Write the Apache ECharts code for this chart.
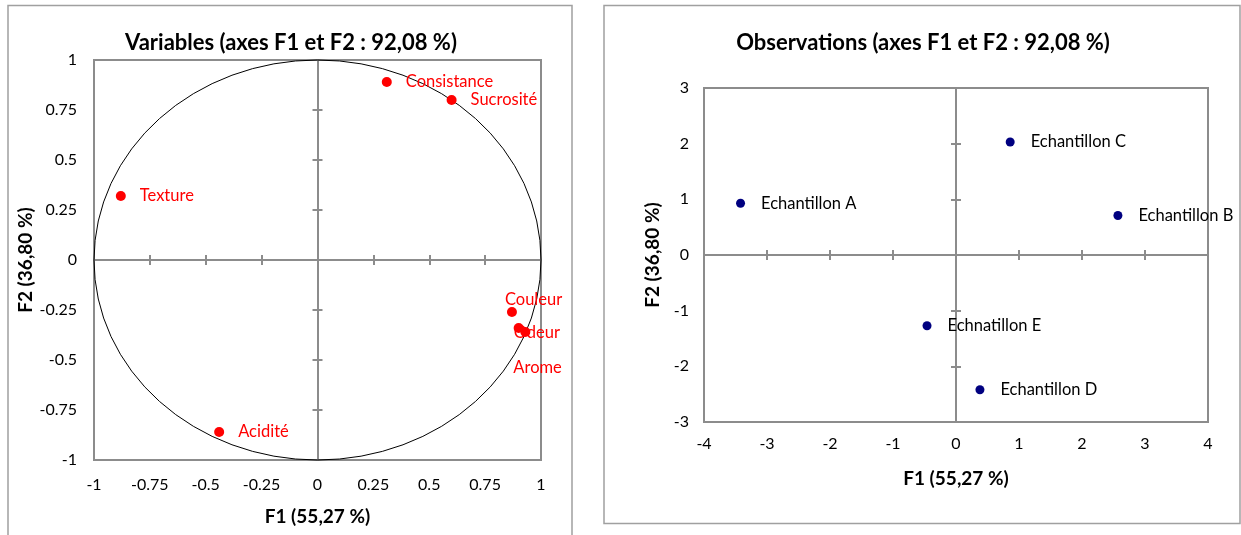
<!DOCTYPE html>
<html>
<head>
<meta charset="utf-8" />
<title>ACP - Variables et Observations</title>
<script src="https://cdn.jsdelivr.net/npm/echarts@6/dist/echarts.min.js"></script>
<style>
  html, body { margin: 0; padding: 0; background: #fff; }
  #main { width: 1241px; height: 535px; }
</style>
</head>
<body>
<div id="main"></div>
<script type="text/javascript">
  // cercle des corrélations
  var varNames = ['Consistance', 'Sucrosité', 'Texture', 'Couleur', 'Odeur', 'Arome', 'Acidité'];
  var varF1 = [0.31, 0.60, -0.88, 0.87, 0.90, 0.93, -0.44];
  var varF2 = [0.89, 0.80, 0.32, -0.26, -0.34, -0.36, -0.86];
  var varTicks = [-1, -0.75, -0.5, -0.25, 0, 0.25, 0.5, 0.75, 1];

  // observations
  var obsNames = ['Echantillon A', 'Echantillon B', 'Echantillon C', 'Echnatillon E', 'Echantillon D'];
  var obsF1 = [-3.42, 2.57, 0.86, -0.46, 0.38];
  var obsF2 = [0.93, 0.71, 2.03, -1.27, -2.42];
  var obsXTicks = [-4, -3, -2, -1, 0, 1, 2, 3, 4];
  var obsYTicks = [-3, -2, -1, 0, 1, 2, 3];

  var FONT = 'Lato';
  var AXIS_GREY = '#8c8c8c';

  // les étiquettes qui se chevauchent à droite du cercle
  var labelOffsets = {
    'Couleur': [-26, -12],
    'Odeur': [-24, 5],
    'Arome': [-31, 36]
  };

  // 3 axes par dimension : étiquettes au bord, puis ligne du zéro avec graduations croisées
  function makeAxes(dim, gridIndex, ticks, name, nameGap, labelMargin, firstIndex) {
    var base = {
      type: 'value',
      gridIndex: gridIndex,
      min: ticks[0],
      max: ticks[ticks.length - 1],
      interval: ticks[1] - ticks[0],
      splitLine: { show: false }
    };
    var pos = dim == 'x' ? 'bottom' : 'left';
    var labelAxis = echarts.util.merge({
      position: pos,
      axisLine: { show: false, onZero: false },
      axisTick: { show: false },
      axisLabel: { color: '#000', fontFamily: FONT, fontSize: 16, margin: labelMargin },
      name: name,
      nameLocation: 'middle',
      nameGap: nameGap,
      nameTextStyle: { color: '#000', fontFamily: FONT, fontSize: 19, fontWeight: 'bold' }
    }, base, true);
    var zeroOut = echarts.util.merge({
      position: pos,
      axisLine: { show: true, onZero: true, onZeroAxisIndex: firstIndex, lineStyle: { color: AXIS_GREY, width: 2 } },
      axisTick: { show: true, inside: false, length: 5, lineStyle: { color: AXIS_GREY, width: 2 } },
      axisLabel: { show: false }
    }, base, true);
    var zeroIn = echarts.util.merge({
      position: pos,
      axisLine: { show: false, onZero: true, onZeroAxisIndex: firstIndex },
      axisTick: { show: true, inside: true, length: 5, lineStyle: { color: AXIS_GREY, width: 2 } },
      axisLabel: { show: false }
    }, base, true);
    return [labelAxis, zeroOut, zeroIn];
  }

  var varData = [];
  for (var i = 0; i < varNames.length; i++) {
    var item = { name: varNames[i], value: [varF1[i], varF2[i]] };
    if (labelOffsets[varNames[i]]) {
      item.label = { offset: labelOffsets[varNames[i]] };
    }
    varData.push(item);
  }
  var obsData = [];
  for (var j = 0; j < obsNames.length; j++) {
    obsData.push({ name: obsNames[j], value: [obsF1[j], obsF2[j]] });
  }

  var xAxes = makeAxes('x', 0, varTicks, 'F1 (55,27 %)', 47, 17, 0)
    .concat(makeAxes('x', 1, obsXTicks, 'F1 (55,27 %)', 47, 14, 3));
  var yAxes = makeAxes('y', 0, varTicks, 'F2 (36,80 %)', 56, 17, 0)
    .concat(makeAxes('y', 1, obsYTicks, 'F2 (36,80 %)', 42, 15, 3));

  var myChart = echarts.init(document.getElementById('main'));
  myChart.setOption({
    animation: false,
    backgroundColor: '#fff',
    textStyle: { fontFamily: FONT },
    graphic: [
      { type: 'rect', shape: { x: 8, y: 5.5, width: 564, height: 545 },
        style: { fill: null, stroke: '#a0a0a0', lineWidth: 1.5 }, silent: true },
      { type: 'rect', shape: { x: 604, y: 5.5, width: 636, height: 518 },
        style: { fill: null, stroke: '#a0a0a0', lineWidth: 1.5 }, silent: true }
    ],
    title: [
      { text: 'Variables (axes F1 et F2 : 92,08 %)', left: 286, top: 27, textAlign: 'center',
        textStyle: { fontFamily: FONT, fontSize: 22, fontWeight: 'bold', color: '#000' } },
      { text: 'Observations (axes F1 et F2 : 92,08 %)', left: 918, top: 27, textAlign: 'center',
        textStyle: { fontFamily: FONT, fontSize: 22, fontWeight: 'bold', color: '#000' } }
    ],
    grid: [
      { left: 94, top: 60, width: 447, height: 400, show: true, borderColor: AXIS_GREY, borderWidth: 2 },
      { left: 704, top: 88, width: 504, height: 334, show: true, borderColor: AXIS_GREY, borderWidth: 2 }
    ],
    xAxis: xAxes,
    yAxis: yAxes,
    series: [
      {
        // cercle unité, dessiné avec les échelles des axes
        type: 'custom',
        xAxisIndex: 0,
        yAxisIndex: 0,
        silent: true,
        z: 1,
        data: [[0, 0]],
        renderItem: function (params, api) {
          var c = api.coord([0, 0]);
          var s = api.size([1, 1]);
          return {
            type: 'path',
            shape: {
              pathData: 'M0,1 A1,1 0 1 0 2,1 A1,1 0 1 0 0,1 Z',
              x: c[0] - s[0], y: c[1] - s[1], width: 2 * s[0], height: 2 * s[1],
              layout: 'cover'
            },
            style: { fill: 'none', stroke: '#000', lineWidth: 1 }
          };
        }
      },
      {
        name: 'Variables',
        type: 'scatter',
        xAxisIndex: 0,
        yAxisIndex: 0,
        symbolSize: 10,
        z: 3,
        itemStyle: { color: '#ff0000', opacity: 1 },
        label: {
          show: true, position: 'right', distance: 14, formatter: '{b}',
          color: '#ff0000', fontFamily: FONT, fontSize: 16.5
        },
        data: varData
      },
      {
        name: 'Observations',
        type: 'scatter',
        xAxisIndex: 3,
        yAxisIndex: 3,
        symbolSize: 9,
        z: 3,
        itemStyle: { color: '#000080', opacity: 1 },
        label: {
          show: true, position: 'right', distance: 16, formatter: '{b}',
          color: '#000', fontFamily: FONT, fontSize: 16.5
        },
        data: obsData
      }
    ]
  });
</script>
</body>
</html>
